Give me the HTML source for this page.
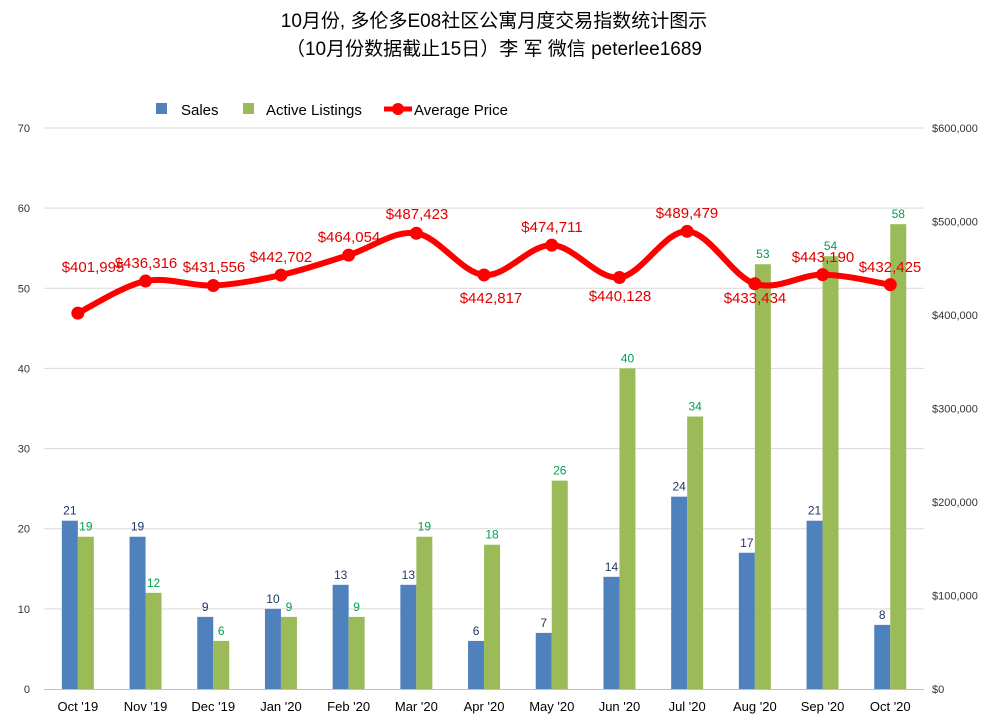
<!DOCTYPE html>
<html><head><meta charset="utf-8">
<style>
html,body{margin:0;padding:0;background:#fff;}
svg{display:block;font-family:"Liberation Sans","Noto Sans CJK SC",sans-serif;}
</style></head>
<body>
<svg id="c" width="988" height="721" viewBox="0 0 988 721" xmlns="http://www.w3.org/2000/svg">
<rect width="988" height="721" fill="#fff"/>
<text x="494" y="27" font-size="19" text-anchor="middle" fill="#000">10月份, 多伦多E08社区公寓月度交易指数统计图示</text>
<text x="494" y="55" font-size="19" text-anchor="middle" fill="#000">（10月份数据截止15日）李 军  微信  peterlee1689</text>
<g id="grid"></g>
<g id="bars"></g>
<g id="line"></g>
<g id="labels"></g>
<rect x="156" y="103" width="11" height="11" fill="#4f81bd"/>
<text x="181" y="115" font-size="15" fill="#000">Sales</text>
<rect x="243" y="103" width="11" height="11" fill="#9bbb59"/>
<text x="266" y="115" font-size="15" fill="#000">Active Listings</text>
<line x1="384" y1="109" x2="412" y2="109" stroke="#ff0000" stroke-width="5"/>
<circle cx="398" cy="109" r="6" fill="#ff0000"/>
<text x="414" y="115" font-size="15" fill="#000">Average Price</text>
</svg>
<script>
(function(){
var NS="http://www.w3.org/2000/svg";
function el(p,t,a,txt){var e=document.createElementNS(NS,t);for(var k in a)e.setAttribute(k,a[k]);if(txt!=null)e.textContent=txt;document.getElementById(p).appendChild(e);return e;}
var y0=689,yTop=128;
for(var i=0;i<=7;i++){var y=y0-(y0-yTop)*i/7;
 if(i>0)el("grid","line",{x1:44,x2:924,y1:y,y2:y,stroke:"#d9d9d9","stroke-width":1});
 el("grid","text",{x:30,y:y+4,"font-size":11,"text-anchor":"end",fill:"#333"},String(i*10));}
for(var i=0;i<=6;i++){var y=y0-(y0-yTop)*i/6;var v=i*100000;
 el("grid","text",{x:932,y:y+4,"font-size":11,fill:"#333"},"$"+(v==0?"0":v.toLocaleString("en-US")));}
el("grid","line",{x1:44,x2:924,y1:689.5,y2:689.5,stroke:"#bfbfbf","stroke-width":1});
var cats=["Oct '19","Nov '19","Dec '19","Jan '20","Feb '20","Mar '20","Apr '20","May '20","Jun '20","Jul '20","Aug '20","Sep '20","Oct '20"];
var sales=[21,19,9,10,13,13,6,7,14,24,17,21,8];
var act=[19,12,6,9,9,19,18,26,40,34,53,54,58];
var price=[401995,436316,431556,442702,464054,487423,442817,474711,440128,489479,433434,443190,432425];
var lab=[[93,267],[146,263],[214,267],[281,257],[349,237],[417,214],[491,298],[552,227],[620,296],[687,213],[755,298],[823,257],[890,267]];
var u=(y0-yTop)/70,pts=[];
for(var i=0;i<13;i++){var cx=44+67.7*(i+0.5);
 var hs=sales[i]*u,ha=act[i]*u;
 el("bars","rect",{x:cx-16,y:y0-hs,width:16,height:hs,fill:"#4f81bd"});
 el("bars","rect",{x:cx,y:y0-ha,width:16,height:ha,fill:"#9bbb59"});
 el("labels","text",{x:cx-8,y:y0-hs-6,"font-size":12,"text-anchor":"middle",fill:"#1f3864"},String(sales[i]));
 el("labels","text",{x:cx+8,y:y0-ha-6,"font-size":12,"text-anchor":"middle",fill:"#00a050"},String(act[i]));
 el("labels","text",{x:cx,y:711,"font-size":13,"text-anchor":"middle",fill:"#000"},cats[i]);
 pts.push([cx,y0-price[i]/600000*561]);}
var d="M"+pts[0][0]+","+pts[0][1];
for(var i=0;i<12;i++){var p0=pts[Math.max(0,i-1)],p1=pts[i],p2=pts[i+1],p3=pts[Math.min(12,i+2)];
 var t=6;d+=" C"+(p1[0]+(p2[0]-p0[0])/t)+","+(p1[1]+(p2[1]-p0[1])/t)+" "+(p2[0]-(p3[0]-p1[0])/t)+","+(p2[1]-(p3[1]-p1[1])/t)+" "+p2[0]+","+p2[1];}
el("line","path",{d:d,fill:"none",stroke:"#ff0000","stroke-width":6,"stroke-linejoin":"round"});
for(var i=0;i<13;i++){el("line","circle",{cx:pts[i][0],cy:pts[i][1],r:6.5,fill:"#ff0000"});
 el("labels","text",{x:lab[i][0],y:lab[i][1]+5,"font-size":15,"text-anchor":"middle",fill:"#e00000"},"$"+price[i].toLocaleString("en-US"));}
})();
</script>
</body></html>
